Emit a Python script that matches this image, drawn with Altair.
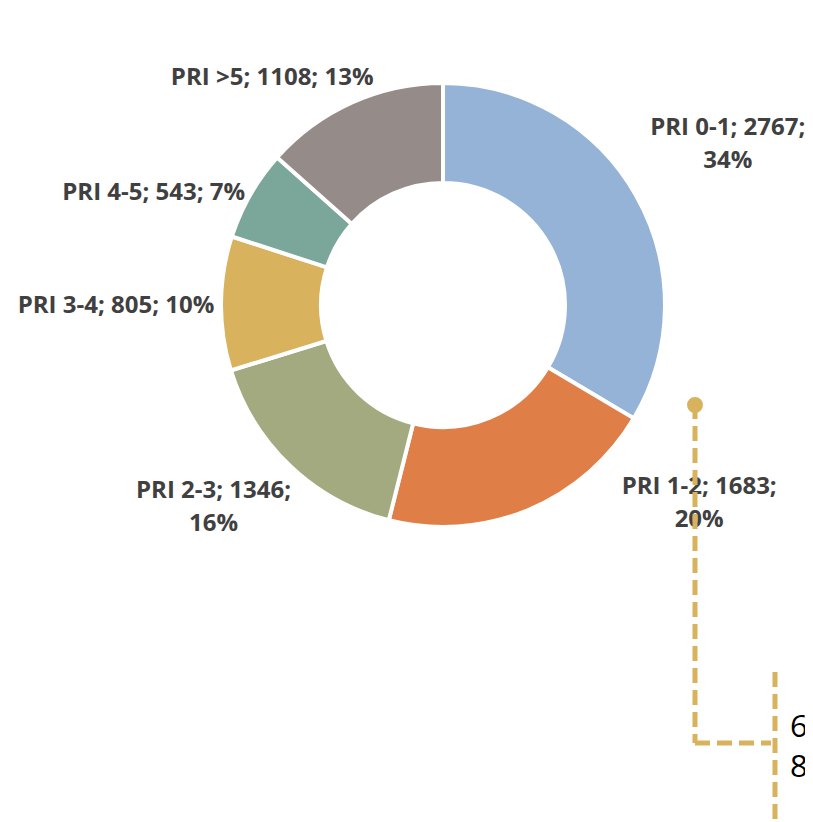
import math
import altair as alt
import pandas as pd

# ---- data ----
categories = ["PRI 0-1", "PRI 1-2", "PRI 2-3", "PRI 3-4", "PRI 4-5", "PRI >5"]
values = [2767, 1683, 1346, 805, 543, 1108]
two_line = [True, True, True, False, False, False]
callout_text = ["65", "8%"]

# ---- styles ----
colors = ["#95B3D7", "#DF7F47", "#A4AA7F", "#D8B25D", "#7BA79A", "#958B89"]
# label nudges (dx, dy) relative to the slice mid-angle at radius 300
nudges = [(24, -29), (141, -95), (-23, -32), (-27, 3), (-29, 37), (-48, 47)]
CX, CY = 435, 297
GOLD = "#D8B25D"
FONT = "Open Sans"

total = sum(values)
rows = []
for i, (c, v, b) in enumerate(zip(categories, values, two_line)):
    pct = round(v / total * 100)
    label = f"{c}; {v};" + ("\n" if b else " ") + f"{pct}%"
    rows.append(dict(cat=c, value=v, order=i, label=label))
df = pd.DataFrame(rows)

theta_scale = alt.Scale(domain=[0, total], range=[0, 2 * math.pi])

base = alt.Chart(df).transform_stack(
    stack="value", groupby=[], as_=["v0", "v1"], sort=[alt.SortField("order")]
).transform_calculate(mid="(datum.v0 + datum.v1) / 2")

arcs = base.mark_arc(
    innerRadius=122, outerRadius=222, stroke="white", strokeWidth=4
).encode(
    theta=alt.Theta("v0:Q", scale=theta_scale, stack=None),
    theta2="v1:Q",
    color=alt.Color("cat:N", scale=alt.Scale(domain=categories, range=colors), legend=None),
    x=alt.value(CX),
    y=alt.value(CY),
)

layers = [arcs]
for c, (dx, dy) in zip(categories, nudges):
    t = base.transform_filter(alt.datum.cat == c).mark_text(
        radius=300, dx=dx, dy=dy, font=FONT, fontWeight="bold", fontSize=24,
        color="#404040", lineBreak="\n", lineHeight=33, align="center", baseline="middle",
    ).encode(
        theta=alt.Theta("mid:Q", scale=theta_scale, stack=None),
        text="label:N",
        x=alt.value(CX),
        y=alt.value(CY),
    )
    layers.append(t)

one = alt.Chart(pd.DataFrame({"t": ["\n".join(callout_text)]}))
dash = [15, 7]
rule1 = one.mark_rule(color=GOLD, strokeWidth=5, strokeDash=dash).encode(
    x=alt.value(687), y=alt.value(396), y2=alt.value(735))
rule2 = one.mark_rule(color=GOLD, strokeWidth=5, strokeDash=dash).encode(
    x=alt.value(687), x2=alt.value(763), y=alt.value(735))
rule3 = one.mark_rule(color=GOLD, strokeWidth=5, strokeDash=dash).encode(
    x=alt.value(767), y=alt.value(664), y2=alt.value(820))
dot = one.mark_circle(color=GOLD, opacity=1, size=254).encode(
    x=alt.value(687), y=alt.value(397))
ctext = one.mark_text(
    font=FONT, fontSize=31, color="#000000", align="left", baseline="middle",
    lineBreak="\n", lineHeight=40,
).encode(x=alt.value(782), y=alt.value(720), text="t:N")

chart = alt.layer(*layers, rule1, rule2, rule3, dot, ctext).properties(
    width=797, height=814, padding=0, autosize="none", background="white"
).configure_view(stroke=None)

chart.save("out.html", embed_options={"renderer": "svg", "actions": False})
